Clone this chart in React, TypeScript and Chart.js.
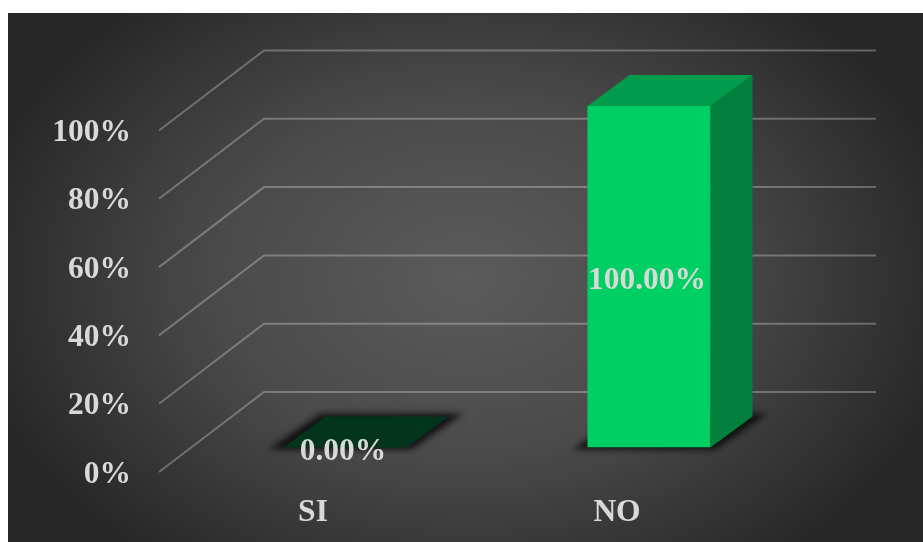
import React, { useEffect, useRef } from "react";
import { Chart, registerables } from "chart.js";

Chart.register(...registerables);

const categories = ["SI", "NO"];
const shareValues = [0, 100];
const frontColors = ["#00cf63", "#00cf63"];
const topColors = ["#03351c", "#009b4b"];
const sideColors = ["#03351c", "#007f3d"];

const W = 923;
const H = 542;
const FONT = "bold 31.5px 'Liberation Serif'";
const TEXT = "#d9d9d9";

// Oblique projection used for the floor, walls and bar depth.
const BAR_DX = 42;
const BAR_DY = 31;
const WALL_FRONT_X = 159;
const WALL_BACK_X = 264;
const WALL_END_X = 876;
const FRONT_SHIFT = 24.5;
const BACK_SHIFT = -55.5;

const polygon = (ctx: CanvasRenderingContext2D, pts: number[][], fill: string) => {
  ctx.beginPath();
  pts.forEach(([x, y], i) => (i ? ctx.lineTo(x, y) : ctx.moveTo(x, y)));
  ctx.closePath();
  ctx.fillStyle = fill;
  ctx.fill();
};

const panelPlugin = {
  id: "panel",
  beforeDraw(chart: any) {
    const { ctx } = chart;
    ctx.save();
    ctx.fillStyle = "#ffffff";
    ctx.fillRect(0, 0, W, H);
    ctx.beginPath();
    ctx.rect(8, 13, W - 8, H - 13);
    ctx.clip();
    // Elliptical radial wash: scale the context so a circle covers the panel.
    const cx = 465;
    const cy = 277;
    const rx = 500;
    const ry = 360;
    ctx.translate(cx, cy);
    ctx.scale(rx, ry);
    const g = ctx.createRadialGradient(0, 0, 0, 0, 0, 1);
    g.addColorStop(0, "#5b5b5b");
    g.addColorStop(0.5, "#4a4a4a");
    g.addColorStop(1, "#272727");
    ctx.fillStyle = g;
    ctx.fillRect(-3, -3, 6, 6);
    ctx.restore();
  },
};

const wallsPlugin = {
  id: "walls",
  beforeDatasetsDraw(chart: any) {
    const { ctx } = chart;
    const yScale = chart.scales.y;
    ctx.save();
    ctx.strokeStyle = "rgba(255,255,255,0.28)";
    ctx.lineWidth = 2;
    yScale.ticks.forEach((t: any) => {
      const py = yScale.getPixelForValue(t.value);
      ctx.beginPath();
      ctx.moveTo(WALL_FRONT_X, py + FRONT_SHIFT);
      ctx.lineTo(WALL_BACK_X, py + BACK_SHIFT);
      ctx.lineTo(WALL_END_X, py + BACK_SHIFT);
      ctx.stroke();
    });
    // Soft contact shadow under each bar.
    const meta = chart.getDatasetMeta(0);
    const base = yScale.getPixelForValue(0);
    ctx.filter = "blur(3px)";
    meta.data.forEach((bar: any) => {
      const { x, width } = bar.getProps(["x", "width"], true);
      const x0 = x - width / 2;
      const x1 = x + width / 2;
      polygon(
        ctx,
        [
          [x0 - 15, base + 2],
          [x0 + BAR_DX - 5, base - BAR_DY - 3],
          [x1 + BAR_DX + 15, base - BAR_DY - 3],
          [x1 + 5, base + 2],
        ],
        "rgba(0,0,0,0.75)",
      );
    });
    ctx.restore();
  },
};

const facesPlugin = {
  id: "faces",
  afterDatasetsDraw(chart: any) {
    const { ctx } = chart;
    const meta = chart.getDatasetMeta(0);
    const base = chart.scales.y.getPixelForValue(0);
    ctx.save();
    meta.data.forEach((bar: any, i: number) => {
      const { x, y, width } = bar.getProps(["x", "y", "width"], true);
      const x0 = x - width / 2;
      const x1 = x + width / 2;
      polygon(
        ctx,
        [
          [x1, y],
          [x1 + BAR_DX, y - BAR_DY],
          [x1 + BAR_DX, base - BAR_DY],
          [x1, base],
        ],
        sideColors[i],
      );
      polygon(
        ctx,
        [
          [x0, y],
          [x0 + BAR_DX, y - BAR_DY],
          [x1 + BAR_DX, y - BAR_DY],
          [x1, y],
        ],
        topColors[i],
      );
    });
    // Value labels sit on the bar's front face.
    ctx.font = FONT;
    ctx.fillStyle = TEXT;
    ctx.textAlign = "center";
    ctx.textBaseline = "middle";
    meta.data.forEach((bar: any, i: number) => {
      const { x, y } = bar.getProps(["x", "y"], true);
      const label = `${shareValues[i].toFixed(2)}%`;
      ctx.fillText(label, x - 2, (y + base) / 2 + 4);
    });
    ctx.restore();
  },
};

export default function App() {
  const ref = useRef<HTMLCanvasElement>(null);

  useEffect(() => {
    if (!ref.current) return;
    const font = { family: "'Liberation Serif'", size: 31.5, weight: "bold" as const };
    const chart = new Chart(ref.current, {
      type: "bar",
      data: {
        labels: categories,
        datasets: [
          {
            data: shareValues,
            backgroundColor: frontColors,
            borderWidth: 0,
            barPercentage: 0.405,
            categoryPercentage: 1,
          },
        ],
      },
      options: {
        responsive: false,
        animation: false,
        layout: { padding: { top: 106, right: 122, left: 0, bottom: 0 } },
        plugins: { legend: { display: false }, tooltip: { enabled: false } },
        scales: {
          x: {
            grid: { display: false, drawTicks: false },
            border: { display: false },
            afterFit: (s: any) => {
              s.height = 94.5;
            },
            ticks: { color: TEXT, font, padding: 46, labelOffset: -32, maxRotation: 0 },
          },
          y: {
            min: 0,
            max: 100,
            grid: { display: false, drawTicks: false },
            border: { display: false },
            afterFit: (s: any) => {
              s.width = 193;
            },
            ticks: {
              color: TEXT,
              font,
              stepSize: 20,
              padding: 62,
              labelOffset: 27,
              callback: (v: any) => `${v}%`,
            },
          },
        },
      },
      plugins: [panelPlugin, wallsPlugin, facesPlugin],
    });
    return () => chart.destroy();
  }, []);

  return (
    <div style={{ position: "absolute", left: 0, top: 0, width: W, height: H }}>
      <canvas ref={ref} width={W} height={H} style={{ display: "block" }} />
    </div>
  );
}
